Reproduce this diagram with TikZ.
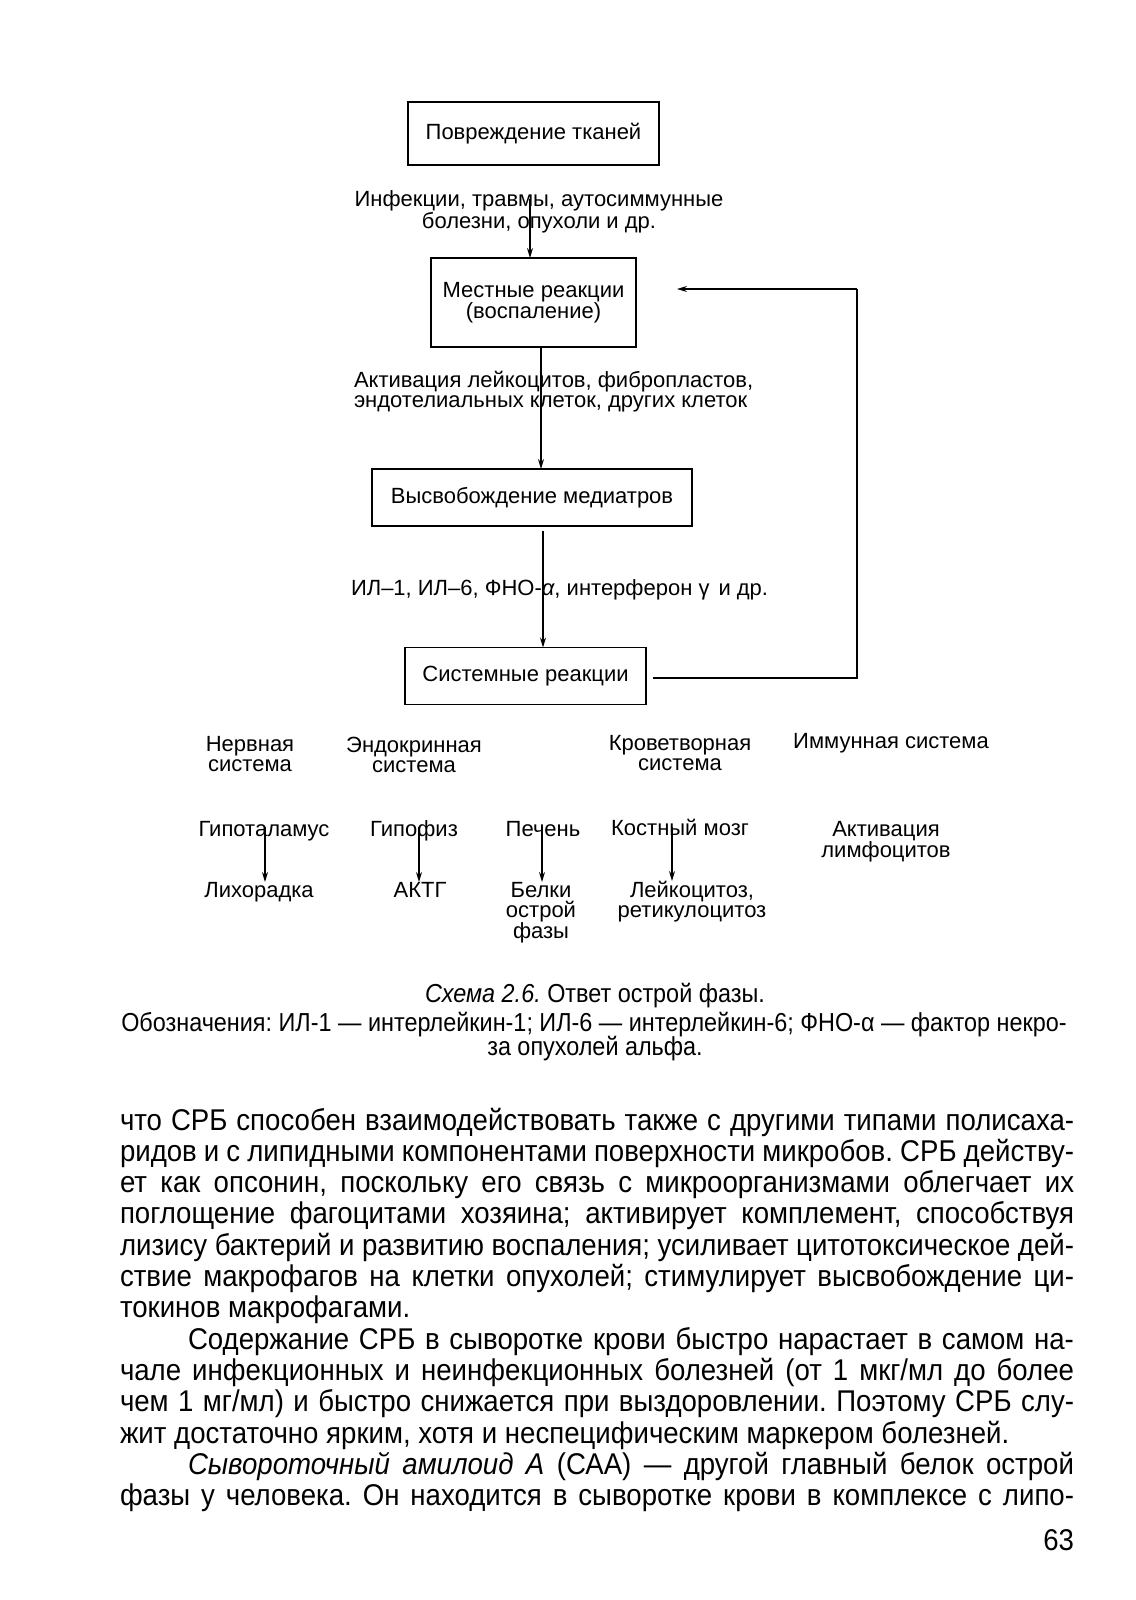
\documentclass[tikz,border=0pt]{standalone}
\usepackage{fontspec}
\setmainfont{Liberation Sans}
\newfontfamily\condf[FakeStretch=0.92]{Liberation Sans}
\newfontfamily\capf[FakeStretch=0.9]{Liberation Sans}
\usetikzlibrary{arrows.meta,calc}
\newcommand{\jl}[1]{\makebox[954pt][s]{#1}}
\newcommand{\jli}[1]{\hspace*{68pt}\makebox[886pt][s]{#1}}
\frenchspacing
\begin{document}
\frenchspacing
\begin{tikzpicture}[x=1pt,y=-1pt,
  every node/.style={inner sep=0pt, outer sep=0pt},
  dfont/.style={font=\frenchspacing\fontsize{22pt}{20pt}\selectfont},
  box/.style={draw, line width=1.5pt, dfont, align=center},
  lbl/.style={dfont},
  arr/.style={line width=1.3pt, -{Stealth[length=10pt,width=6pt]}},
  bodyl/.style={anchor=base west, font=\frenchspacing\condf\fontsize{30pt}{31pt}\selectfont},
  capl/.style={anchor=base, font=\frenchspacing\capf\fontsize{26pt}{24pt}\selectfont}]
\useasboundingbox (0,0) rectangle (1135,1600);
\fill[white] (0,0) rectangle (1135,1600);

% boxes
\node[box, minimum width=251pt, minimum height=63pt] (b1) at (533.5,133.5) {Повреждение тканей};
\node[box, minimum width=205pt, minimum height=89pt] (b2) at (533.5,302.5) {Местные реакции\\(воспаление)};
\node[box, minimum width=320pt, minimum height=57pt] (b3) at (532,497.5) {Высвобождение медиатров};
\node[box, minimum width=241pt, minimum height=57pt] (b5) at (525.5,676) {Системные реакции};

% labels
\node[lbl, align=center] (l1) at (539,212) {Инфекции, травмы, аутосиммунные\\болезни, опухоли и др.};
\node[lbl, align=left, anchor=west] (l2) at (354,392) {Активация лейкоцитов, фибропластов,\\эндотелиальных клеток, других клеток};
\node[lbl, anchor=west] (l3) at (351,590) {ИЛ–1, ИЛ–6, ФНО-\textit{α}, интерферон γ\hspace{9pt}и др.};

% arrows main column
\coordinate (a1s) at (530,199);
\draw[arr] (a1s) -- (a1s |- b2.north);
\coordinate (a2s) at (541,347);
\draw[arr] (a2s) -- (a2s |- b3.north);
\coordinate (a3s) at (543,531);
\draw[arr] (a3s) -- (a3s |- b5.north);

% feedback
\coordinate (fbc) at (857,678);
\coordinate (fbe) at (677,289);
\draw[line width=1.3pt] ([yshift=-2pt]b5.east) ++(7,0) -- (fbc) -- (fbc |- fbe);
\draw[arr] (fbc |- fbe) -- (fbe);

% systems row
\node[lbl, align=center] (s1) at (250,754) {Нервная\\система};
\node[lbl, align=center] (s2) at (414,755) {Эндокринная\\система};
\node[lbl, align=center] (s3) at (680,753) {Кроветворная\\система};
\node[lbl] (s4) at (891,743) {Иммунная система};

% organs row
\node[lbl, anchor=base] (o1) at (264,836) {Гипоталамус};
\node[lbl, anchor=base] (o2) at (414,836) {Гипофиз};
\node[lbl, anchor=base] (o3) at (543,836) {Печень};
\node[lbl, anchor=base] (o4) at (680,835) {Костный мозг};
\node[lbl, align=center] (o5) at (886,842) {Активация\\лимфоцитов};

% results row
\node[lbl, anchor=base] (r1) at (259,897) {Лихорадка};
\node[lbl, anchor=base] (r2) at (420,897) {АКТГ};
\node[lbl, align=center, anchor=north] (r3) at (541,882) {Белки\\острой\\фазы};
\node[lbl, align=center, anchor=north] (r4) at (692,881) {Лейкоцитоз,\\ретикулоцитоз};

% small arrows
\coordinate (c1) at (265,827);
\draw[arr] (c1) -- (c1 |- r3.north);
\coordinate (c2) at (419,827);
\draw[arr] (c2) -- (c2 |- r3.north);
\coordinate (c3) at (542,827);
\draw[arr] (c3) -- (c3 |- r3.north);
\coordinate (c4) at (672,827);
\draw[arr] (c4) -- (c4 |- r4.north);

% caption
\node[capl] (cap1) at (595,1002) {\textit{Схема 2.6.} Ответ острой фазы.};
\node[capl] (cap2) at (594,1031) {Обозначения: ИЛ-1 — интерлейкин-1; ИЛ-6 — интерлейкин-6; ФНО-α — фактор некро-};
\node[capl] (cap3) at (595,1055) {за опухолей альфа.};

% body text
\node[bodyl] (t1) at (120,1130) {\jl{что СРБ способен взаимодействовать также с другими типами полисаха-}};
\node[bodyl] (t2) at (120,1161.3) {\jl{ридов и с липидными компонентами поверхности микробов. СРБ действу-}};
\node[bodyl] (t3) at (120,1192.6) {\jl{ет как опсонин, поскольку его связь с микроорганизмами облегчает их}};
\node[bodyl] (t4) at (120,1223.9) {\jl{поглощение фагоцитами хозяина; активирует комплемент, способствуя}};
\node[bodyl] (t5) at (120,1255.2) {\jl{лизису бактерий и развитию воспаления; усиливает цитотоксическое дей-}};
\node[bodyl] (t6) at (120,1286.5) {\jl{ствие макрофагов на клетки опухолей; стимулирует высвобождение ци-}};
\node[bodyl] (t7) at (120,1317.8) {токинов макрофагами.};
\node[bodyl] (t8) at (120,1349.1) {\jli{Содержание СРБ в сыворотке крови быстро нарастает в самом на-}};
\node[bodyl] (t9) at (120,1380.4) {\jl{чале инфекционных и неинфекционных болезней (от 1 мкг/мл до более}};
\node[bodyl] (t10) at (120,1411.7) {\jl{чем 1 мг/мл) и быстро снижается при выздоровлении. Поэтому СРБ слу-}};
\node[bodyl] (t11) at (120,1443) {жит достаточно ярким, хотя и неспецифическим маркером болезней.};
\node[bodyl] (t12) at (120,1474.3) {\jli{\textit{Сывороточный амилоид А} (САА) — другой главный белок острой}};
\node[bodyl] (t13) at (120,1505.6) {\jl{фазы у человека. Он находится в сыворотке крови в комплексе с липо-}};
\node[bodyl, anchor=base east] (pg) at (1074,1550) {63};
\end{tikzpicture}
\end{document}
